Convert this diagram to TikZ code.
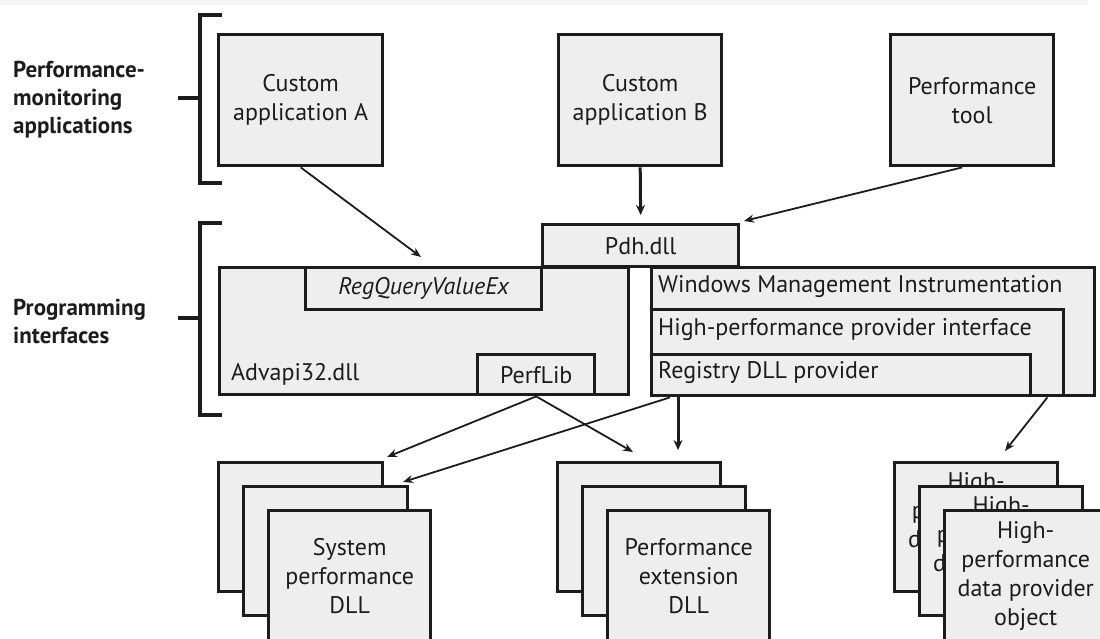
\documentclass[tikz,border=0pt]{standalone}
\usepackage{fontspec}
\setmainfont{PT Sans}
\usetikzlibrary{arrows.meta,calc}
\definecolor{boxfill}{RGB}{238,238,238}
\definecolor{ink}{RGB}{28,28,28}
\definecolor{strip}{RGB}{244,244,244}
\newcommand\bxfont{\fontsize{24}{29}\selectfont}
\newcommand\lbfont{\fontsize{23}{28}\selectfont\bfseries}
\tikzset{
  box/.style={draw=ink, line width=3.4pt, fill=boxfill, inner sep=0pt, anchor=north west, font=\bxfont, align=center, text=ink},
  txt/.style={inner sep=0pt, font=\bxfont, text=ink},
  lbl/.style={inner sep=0pt, font=\lbfont, text=ink, align=left, anchor=west},
  arr/.style={draw=ink, line width=1.8pt, -{Stealth[length=10pt,width=8pt]}},
  arrthick/.style={draw=ink, line width=3pt, -{Stealth[length=10pt,width=9pt]}},
  brk/.style={draw=ink, line width=3.5pt},
}
\begin{document}
\begin{tikzpicture}[x=1pt,y=-1pt]
\useasboundingbox (0,0) rectangle (1100,639);
\clip (0,0) rectangle (1100,639);
\fill[strip] (0,0) rectangle (1088,5);

% labels and brackets
\node[lbl] (lab1) at (13,100) {Performance-\\monitoring\\applications};
\node[lbl] (lab2) at (13,321) {Programming\\interfaces};
\draw[brk] (222,15) -- (200,15) -- (200,183) -- (222,183);
\draw[brk] (178,98) -- (200,98);
\draw[brk] (222,223) -- (200,223) -- (200,415) -- (222,415);
\draw[brk] (178,318) -- (200,318);

% applications
\node[box, minimum width=164pt, minimum height=131pt] (appA) at (217,33) {Custom\\application A};
\node[box, minimum width=163pt, minimum height=131pt] (appB) at (557,33) {Custom\\application B};
\node[box, minimum width=163pt, minimum height=131pt] (ptool) at (889,33) {Performance\\tool};

% interfaces
\node[box, minimum width=196pt, minimum height=42pt] (pdh) at (541,223) {Pdh.dll};
\node[box, minimum width=409pt, minimum height=127pt] (advapi) at (218,266) {};
\node[txt, anchor=west] (advapiT) at (231,374) {Advapi32.dll};
\node[box, minimum width=236pt, minimum height=42pt, font=\bxfont\itshape] (regq) at (304,266) {RegQueryValueEx};
\node[box, minimum width=117pt, minimum height=40pt] (perflib) at (476,353) {PerfLib};
\node[box, minimum width=443pt, minimum height=128pt] (wmi) at (650,266) {};
\node[txt, anchor=west] (wmiT) at (658,287) {Windows Management Instrumentation};
\node[box, minimum width=412pt, minimum height=86pt] (hppi) at (650,308) {};
\node[txt, anchor=west] (hppiT) at (658,330) {High-performance provider interface};
\node[box, minimum width=379pt, minimum height=41pt] (reg) at (650,353) {};
\node[txt, anchor=west] (regT) at (658,373) {Registry DLL provider};

% bottom stacks
\node[box, minimum width=164pt, minimum height=129pt] (sys1) at (217,461) {};
\node[box, minimum width=164pt, minimum height=129pt] (sys2) at (242,485) {};
\node[box, minimum width=162pt, minimum height=130pt] (sys3) at (267,509) {System\\performance\\DLL};

\node[box, minimum width=163pt, minimum height=129pt] (ext1) at (556,461) {};
\node[box, minimum width=163pt, minimum height=129pt] (ext2) at (581,485) {};
\node[box, minimum width=162pt, minimum height=130pt] (ext3) at (606,509) {Performance\\extension\\DLL};

\node[box, minimum width=163pt, minimum height=129pt] (hp1) at (893,461) {High-\\performance\\data provider\\object};
\node[box, minimum width=163pt, minimum height=129pt] (hp2) at (918,485) {High-\\performance\\data provider\\object};
\node[box, minimum width=162pt, minimum height=130pt] (hp3) at (943,509) {High-\\performance\\data provider\\object};

% arrow tips
\coordinate (tA) at (421,257);
\coordinate (tP) at (744,221);
\coordinate (t4) at (387,457);
\coordinate (t5) at (633,452);
\coordinate (t6) at (403,482);
\coordinate (t7) at (678,450);
\coordinate (t8) at (1005,451);

% connectors
\draw[arr] (appA.south) -- (tA);
\draw[arrthick, shorten >=8pt] (appB.south) -- (pdh.north);
\draw[arr] ($(ptool.south)+(-10,0)$) -- (tP);
\draw[arr] (perflib.south) -- (t4);
\draw[arr] (perflib.south) -- (t5);
\draw[arr] ($(reg.south west)+(20,0)$) -- (t6);
\draw[arrthick] ($(reg.south west)+(28,0)$) -- (t7);
\draw[arr] ($(hppi.south east)+(-18,0)$) -- (t8);
\end{tikzpicture}
\end{document}
